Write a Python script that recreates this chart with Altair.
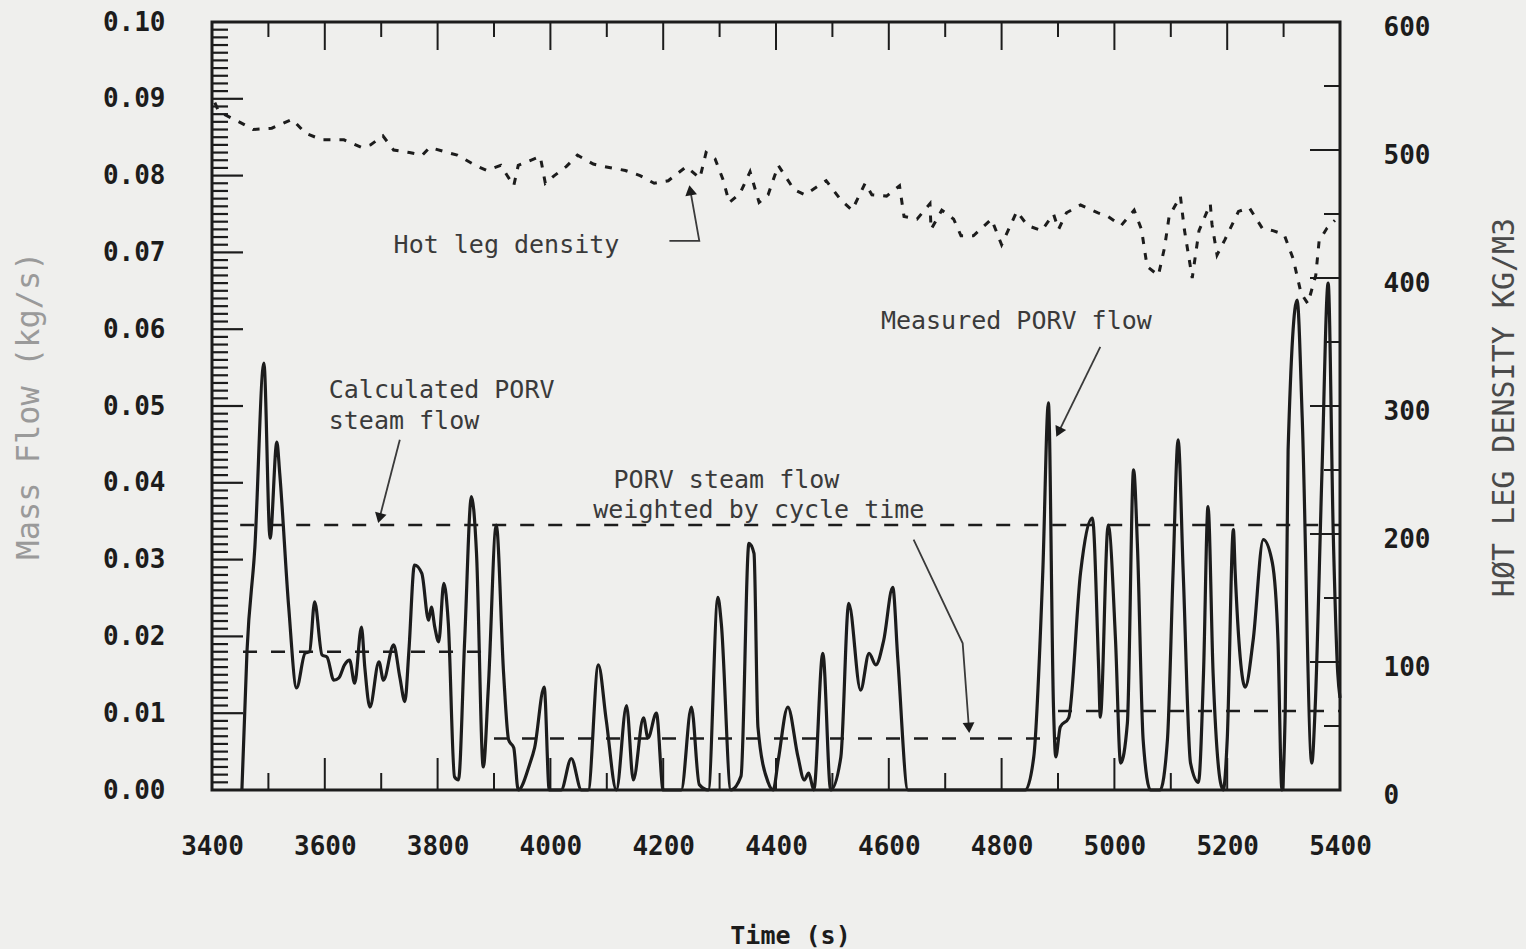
import math

import altair as alt
import pandas as pd

# ---------------------------------------------------------------------------
# Data
# ---------------------------------------------------------------------------

# Measured PORV mass flow (kg/s), solid trace
flow_time = [
    3453, 3462, 3476, 3492, 3503, 3515, 3520, 3536, 3550, 3565, 3573, 3582,
    3595, 3604, 3616, 3625, 3635, 3644, 3653, 3665, 3671, 3680, 3696, 3704,
    3722, 3733, 3742, 3749, 3759, 3772, 3784, 3789, 3795, 3802, 3811, 3819,
    3830, 3837, 3848, 3860, 3869, 3881, 3890, 3904, 3917, 3926, 3935, 3943,
    3963, 3972, 3989, 3998, 4019, 4037, 4055, 4067, 4085, 4099, 4117, 4135,
    4147, 4165, 4173, 4188, 4200, 4232, 4250, 4264, 4280, 4297, 4303, 4320,
    4338, 4352, 4361, 4368, 4386, 4395, 4404, 4421, 4439, 4450, 4458, 4467,
    4483, 4497, 4515, 4529, 4550, 4565, 4577, 4591, 4607, 4616, 4634, 4842,
    4857, 4873, 4883, 4892, 4896, 4904, 4919, 4940, 4961, 4972, 4975, 4989,
    5002, 5011, 5023, 5034, 5041, 5051, 5064, 5081, 5094, 5104, 5113, 5122,
    5135, 5149, 5158, 5166, 5175, 5188, 5193, 5200, 5211, 5214, 5223, 5232,
    5246, 5264, 5280, 5290, 5297, 5303, 5308, 5324, 5333, 5350, 5356, 5368,
    5379, 5388, 5396, 5400,
]
flow_value = [
    0.0000, 0.0180, 0.0316, 0.0556, 0.0328, 0.0453, 0.0413, 0.0238, 0.0133, 0.0178, 0.0180, 0.0245,
    0.0176, 0.0173, 0.0143, 0.0146, 0.0163, 0.0169, 0.0139, 0.0212, 0.0159, 0.0108, 0.0167, 0.0143,
    0.0189, 0.0147, 0.0115, 0.0180, 0.0293, 0.0282, 0.0221, 0.0238, 0.0212, 0.0193, 0.0269, 0.0217,
    0.0017, 0.0013, 0.0195, 0.0382, 0.0308, 0.0030, 0.0134, 0.0345, 0.0152, 0.0065, 0.0055, 0.0000,
    0.0033, 0.0055, 0.0134, 0.0000, 0.0000, 0.0041, 0.0000, 0.0000, 0.0163, 0.0091, 0.0000, 0.0110,
    0.0013, 0.0094, 0.0068, 0.0100, 0.0000, 0.0000, 0.0108, 0.0007, 0.0000, 0.0251, 0.0217, 0.0000,
    0.0018, 0.0321, 0.0308, 0.0082, 0.0010, 0.0000, 0.0039, 0.0108, 0.0043, 0.0013, 0.0022, 0.0000,
    0.0178, 0.0000, 0.0043, 0.0243, 0.0130, 0.0178, 0.0163, 0.0195, 0.0264, 0.0170, 0.0000, 0.0000,
    0.0043, 0.0283, 0.0504, 0.0108, 0.0043, 0.0082, 0.0094, 0.0283, 0.0354, 0.0160, 0.0095, 0.0345,
    0.0195, 0.0035, 0.0087, 0.0417, 0.0315, 0.0065, 0.0000, 0.0000, 0.0065, 0.0283, 0.0456, 0.0283,
    0.0035, 0.0010, 0.0152, 0.0369, 0.0152, 0.0010, 0.0000, 0.0065, 0.0339, 0.0286, 0.0173, 0.0134,
    0.0195, 0.0326, 0.0296, 0.0195, 0.0000, 0.0108, 0.0443, 0.0638, 0.0485, 0.0035, 0.0108, 0.0413,
    0.0660, 0.0335, 0.0152, 0.0120,
]

# Hot leg density (kg/m3), dashed trace on the right-hand axis
density_time = [
    3405, 3412, 3448, 3473, 3506, 3542, 3566, 3595, 3634, 3665, 3681, 3703,
    3722, 3750, 3773, 3786, 3818, 3835, 3867, 3887, 3912, 3935, 3943, 3982,
    3991, 4007, 4028, 4048, 4076, 4096, 4133, 4159, 4184, 4209, 4241, 4265,
    4276, 4292, 4306, 4317, 4336, 4354, 4370, 4386, 4404, 4432, 4451, 4489,
    4515, 4535, 4558, 4570, 4596, 4619, 4627, 4650, 4673, 4675, 4694, 4715,
    4728, 4750, 4782, 4800, 4827, 4846, 4871, 4892, 4901, 4915, 4940, 4970,
    4989, 5012, 5035, 5048, 5058, 5078, 5089, 5097, 5117, 5124, 5138, 5150,
    5170, 5173, 5182, 5196, 5220, 5239, 5262, 5281, 5301, 5317, 5331, 5343,
    5357, 5363, 5377, 5391,
]
density_value = [
    537, 530, 522, 516, 517, 524, 513, 508, 508, 502, 504, 511,
    500, 498, 496, 502, 498, 496, 488, 484, 488, 472, 488, 495,
    474, 480, 487, 496, 489, 487, 484, 480, 474, 476, 487, 478,
    498, 493, 477, 459, 466, 483, 459, 465, 488, 469, 465, 476,
    461, 453, 474, 465, 464, 472, 448, 446, 458, 438, 453, 446,
    433, 433, 446, 426, 452, 441, 437, 450, 438, 451, 457, 451,
    448, 441, 453, 438, 409, 402, 424, 448, 464, 438, 400, 437,
    458, 442, 418, 430, 452, 455, 439, 437, 434, 415, 388, 380,
    402, 429, 439, 445,
]

# Calculated PORV steam flow (kg/s)
calc_time = [3450, 5400]
calc_value = [0.0345, 0.0345]

# PORV steam flow weighted by cycle time (kg/s), one level per period
weighted_start = [3455, 3900, 4900]
weighted_end = [3900, 4900, 5400]
weighted_value = [0.0180, 0.0067, 0.0103]

# Axis label values
time_labels = [3400, 3600, 3800, 4000, 4200, 4400, 4600, 4800, 5000, 5200, 5400]
flow_labels = [0.00, 0.01, 0.02, 0.03, 0.04, 0.05, 0.06, 0.07, 0.08, 0.09, 0.10]
density_labels = [0, 100, 200, 300, 400, 500, 600]

# Callout text: (text, time, flow)
note_text = ["Hot leg density", "Measured PORV flow", "Calculated PORV", "steam flow",
             "PORV steam flow", "weighted by cycle time"]
note_time = [3722, 4586, 3607, 3607, 4112, 4076]
note_flow = [0.0710, 0.0611, 0.0521, 0.0480, 0.0404, 0.0365]

# Callout leader lines: (leader id, time, flow), drawn in order, arrow at the last point
leader_id = ["hot", "hot", "hot", "meas", "meas", "calc", "calc", "wtd", "wtd", "wtd"]
leader_time = [4211, 4264, 4248, 4975, 4901, 3733, 3697, 4644, 4731, 4742]
leader_flow = [0.0715, 0.0715, 0.0781, 0.0577, 0.0466, 0.0456, 0.0354, 0.0326, 0.0191, 0.0081]

# ---------------------------------------------------------------------------
# Layout and style
# ---------------------------------------------------------------------------
W, H = 1128, 768
T0, T1 = 3400, 5400
F0, F1 = 0.0, 0.10
D0, D1 = 0, 600

INK = "#1c1c1c"
TEXT = "#3a3a3a"
BG = "#efefed"
MONO = "DejaVu Sans Mono"

x_scale = alt.Scale(domain=[T0, T1], nice=False, zero=False)
f_scale = alt.Scale(domain=[F0, F1], nice=False)
d_scale = alt.Scale(domain=[D0, D1], nice=False)

flow_df = pd.DataFrame({"t": flow_time, "f": flow_value})
dens_df = pd.DataFrame({"t": density_time, "d": density_value})
calc_df = pd.DataFrame({"t": calc_time, "f": calc_value})
wtd_df = pd.DataFrame({
    "seg": [i for i in range(len(weighted_value)) for _ in (0, 1)],
    "t": [v for a, b in zip(weighted_start, weighted_end) for v in (a, b)],
    "f": [v for v in weighted_value for _ in (0, 1)],
})
note_df = pd.DataFrame({"text": note_text, "t": note_time, "f": note_flow})
leader_df = pd.DataFrame({"id": leader_id, "t": leader_time, "f": leader_flow,
                          "k": list(range(len(leader_id)))})

# arrowheads sit on the last point of each leader, rotated along its last segment
heads = []
for lid in dict.fromkeys(leader_id):
    pts = leader_df[leader_df["id"] == lid]
    (t0, f0), (t1, f1) = pts[["t", "f"]].values[-2], pts[["t", "f"]].values[-1]
    dx = (t1 - t0) * W / (T1 - T0)
    dy = -(f1 - f0) * H / (F1 - F0)
    heads.append({"t": t1, "f": f1, "angle": math.degrees(math.atan2(dx, -dy)) % 360})
head_df = pd.DataFrame(heads)

# inward tick marks (the plotter draws them inside the frame)
flow_minor = pd.DataFrame({"v": [i / 1000 for i in range(1, 100) if i % 10]})
flow_major = pd.DataFrame({"v": [i / 100 for i in range(1, 10)]})
time_minor = pd.DataFrame({"v": [t for t in range(T0 + 100, T1, 200)]})
time_major = pd.DataFrame({"v": [t for t in range(T0 + 200, T1, 200)]})
dens_minor = pd.DataFrame({"v": [d for d in range(50, D1, 100)]})
dens_major = pd.DataFrame({"v": [d for d in range(100, D1, 100)]})

# ---------------------------------------------------------------------------
# Axes
# ---------------------------------------------------------------------------
label_style = dict(
    ticks=False, domain=False, grid=False, labelFlush=False, labelOverlap=False,
    labelFont=MONO, labelFontSize=26, labelFontWeight="bold", labelColor=INK,
    titleFont=MONO, titleBaseline="middle", titleAlign="center",
)
x_axis = alt.Axis(
    values=time_labels, format="d", title="Time (s)", orient="bottom",
    labelPadding=43, titleFontSize=25, titleFontWeight="bold", titleColor=INK,
    titleX=578, titleY=145, **label_style)
f_axis = alt.Axis(
    values=flow_labels, format=".2f", title="Mass Flow (kg/s)", orient="left",
    labelPadding=47, titleFontSize=32, titleFontWeight="normal", titleColor="#9a9a9a",
    titleAngle=270, titleX=-184, titleY=383, **label_style)
d_axis = alt.Axis(
    values=density_labels, format="d", title="HØT LEG DENSITY KG/M3", orient="right",
    labelPadding=43, labelOffset=5, titleFontSize=30, titleFontWeight="normal",
    titleColor="#4a4a4a", titleAngle=270, titleX=164, titleY=385, **label_style)

X = alt.X("t:Q", scale=x_scale, axis=None)
YF = alt.Y("f:Q", scale=f_scale, axis=None)

# ---------------------------------------------------------------------------
# Marks
# ---------------------------------------------------------------------------
measured = alt.Chart(flow_df).mark_line(
    color=INK, strokeWidth=3.2, interpolate="monotone", strokeJoin="round"
).encode(
    x=alt.X("t:Q", scale=x_scale, axis=x_axis),
    y=alt.Y("f:Q", scale=f_scale, axis=f_axis),
)

density = alt.Chart(dens_df).mark_line(
    color=INK, strokeWidth=3, strokeDash=[7, 9]
).encode(
    x=X,
    y=alt.Y("d:Q", scale=d_scale, axis=d_axis),
)

calc_line = alt.Chart(calc_df).mark_line(
    color=INK, strokeWidth=2.5, strokeDash=[14, 14]
).encode(x=X, y=YF)

wtd_line = alt.Chart(wtd_df).mark_line(
    color=INK, strokeWidth=2.5, strokeDash=[14, 14]
).encode(x=X, y=YF, detail="seg:N")


def vrules(df, scale, x0, x1, width=2.0):
    return alt.Chart(df).mark_rule(color=INK, strokeWidth=width).encode(
        y=alt.Y("v:Q", scale=scale, axis=None), x=alt.value(x0), x2=alt.value(x1))


def hrules(df, y0, y1, width=2.0):
    return alt.Chart(df).mark_rule(color=INK, strokeWidth=width).encode(
        x=alt.X("v:Q", scale=x_scale, axis=None), y=alt.value(y0), y2=alt.value(y1))


tick_layers = [
    vrules(flow_minor, f_scale, 0, 16, 2.2),
    vrules(flow_major, f_scale, 0, 31, 2.2),
    hrules(time_minor, H, H - 17),
    hrules(time_major, H, H - 32),
    hrules(time_minor, 0, 15),
    hrules(time_major, 0, 28),
    vrules(dens_minor, d_scale, W, W - 16),
    vrules(dens_major, d_scale, W, W - 30),
]

leaders = alt.Chart(leader_df).mark_line(color=TEXT, strokeWidth=1.8).encode(
    x=X, y=YF, detail="id:N", order="k:Q")

arrowheads = alt.Chart(head_df).mark_point(
    shape="triangle-up", filled=True, color=INK, size=140, opacity=1
).encode(x=X, y=YF, angle=alt.Angle("angle:Q", scale=None))

notes = alt.Chart(note_df).mark_text(
    font=MONO, fontSize=25, color=TEXT, align="left", baseline="middle"
).encode(x=X, y=YF, text="text:N")

chart = alt.layer(
    measured, density, *tick_layers, calc_line, wtd_line, leaders, arrowheads, notes,
).resolve_scale(
    y="independent"
).resolve_axis(
    x="independent"
).properties(
    width=W,
    height=H,
    autosize=alt.AutoSizeParams(type="none"),
    padding={"left": 212, "top": 22, "right": 186, "bottom": 159},
    background=BG,
).configure_view(
    stroke=INK, strokeWidth=3,
)

chart.save("out.html", embed_options={"renderer": "svg", "actions": False})
